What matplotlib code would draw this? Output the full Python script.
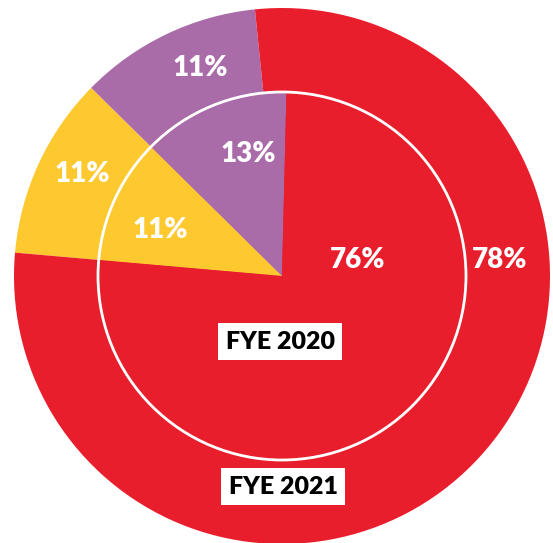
import matplotlib
matplotlib.use('Agg')
import matplotlib.pyplot as plt
from matplotlib.patches import Circle

# data, listed clockwise from the yellow/red boundary
segments = ['Yellow', 'Purple', 'Red']
fye2021 = [11, 11, 78]
fye2020 = [11, 13, 76]
colors = ['#FEC82F', '#A96CA8', '#E91E2C']

# label positions (centre = 0,0, outer radius = 1)
outer_label_pos = [(-0.746, 0.381), (-0.306, 0.776), (0.813, 0.06)]
inner_label_pos = [(-0.455, 0.172), (-0.127, 0.455), (0.284, 0.06)]

plt.rcParams['font.family'] = ['Lato', 'DejaVu Sans']

fig = plt.figure(figsize=(5.53, 5.43), dpi=100)
ax = fig.add_axes([0, 0, 1, 1])

start = 175
inner_r = 184 / 268

ax.pie(fye2021, colors=colors, startangle=start, counterclock=False,
       radius=1.0, wedgeprops=dict(linewidth=0))
ax.pie(fye2020, colors=colors, startangle=start, counterclock=False,
       radius=inner_r, wedgeprops=dict(linewidth=0))
ax.add_patch(Circle((0, 0), inner_r, fill=False, edgecolor='white', linewidth=2))

for v, (x, y) in zip(fye2021, outer_label_pos):
    ax.text(x, y, '%d%%' % v, color='white', fontsize=20, fontweight='heavy',
            ha='center', va='center')
for v, (x, y) in zip(fye2020, inner_label_pos):
    ax.text(x, y, '%d%%' % v, color='white', fontsize=20, fontweight='heavy',
            ha='center', va='center')

box = dict(boxstyle='square,pad=0.3', facecolor='white', edgecolor='none')
ax.text(-0.007, -0.246, 'FYE 2020', color='black', fontsize=18, fontweight='heavy',
        ha='center', va='center', bbox=box)
ax.text(0.004, -0.787, 'FYE 2021', color='black', fontsize=18, fontweight='heavy',
        ha='center', va='center', bbox=box)

ax.set_xlim(-282 / 268, 271 / 268)
ax.set_ylim(-267 / 268, 276 / 268)
ax.set_aspect('equal')
ax.axis('off')

fig.savefig('out.png', dpi=100)
